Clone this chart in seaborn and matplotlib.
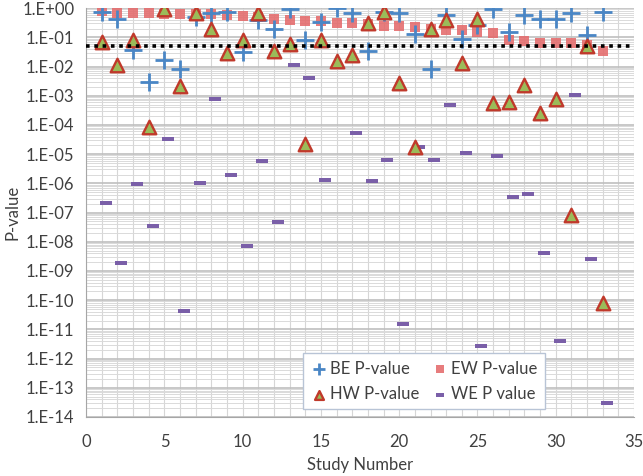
import numpy as np
import pandas as pd
import matplotlib.pyplot as plt
from matplotlib.path import Path
from matplotlib.ticker import LogLocator, FixedLocator, MultipleLocator
import seaborn as sns

# numarul studiului
study = list(range(1, 34))

be_p = [0.75, 0.44, 0.036, 0.003, 0.017, 0.008, 0.5, 0.66, 0.75, 0.032, 0.39,
        0.19, 0.9, 0.08, 0.34, 1.0, 0.69, 0.034, 0.75, 0.66, 0.125, 0.008,
        0.58, 0.085, 0.26, 0.9, 0.155, 0.58, 0.44, 0.42, 0.69, 0.12, 0.75]

ew_p = [0.8, 0.68, 0.66, 0.66, 0.64, 0.64, 0.62, 0.62, 0.6, 0.53, 0.5, 0.42,
        0.39, 0.37, 0.37, 0.31, 0.3, 0.28, 0.24, 0.24, 0.23, 0.2, 0.18, 0.18,
        0.155, 0.135, 0.08, 0.076, 0.065, 0.065, 0.065, 0.054, 0.035]

hw_p = [0.07, 0.011, 0.08, 8.7e-5, 0.9, 0.0021, 0.66, 0.19, 0.03, 0.08, 0.69,
        0.035, 0.059, 2.2e-5, 0.08, 0.016, 0.025, 0.3, 0.75, 0.0028, 1.7e-5,
        0.2, 0.38, 0.0127, 0.44, 5.7e-4, 6.2e-4, 0.0023, 2.6e-4, 7.9e-4,
        8.1e-8, 0.05, 7.7e-11]

we_p = [2.1e-7, 1.8e-9, 9.4e-7, 3.4e-8, 3.2e-5, 4.2e-11, 1e-6, 8e-4, 1.9e-6,
        7e-9, 5.9e-6, 4.8e-8, 0.011, 0.0039, 1.35e-6, np.nan, 5.1e-5, 1.2e-6,
        6.3e-6, 1.5e-11, 1.7e-5, 6.3e-6, 4.8e-4, 1.1e-5, 2.6e-12, 8.7e-6,
        3.3e-7, 4.3e-7, 4e-9, 4e-12, 1.05e-3, 2.5e-9, 2.9e-14]

threshold = 0.05
ytick_vals = [10.0 ** -k for k in range(0, 15)]
ytick_labels = ['1.E+00'] + ['1.E-%02d' % k for k in range(1, 15)]

df = pd.DataFrame({'Study': study, 'BE': be_p, 'EW': ew_p, 'HW': hw_p, 'WE': we_p})

sns.set_style('white')
plt.rcParams['font.family'] = ['Lato', 'DejaVu Sans']

fig = plt.figure(figsize=(6.43, 4.76), dpi=100)
ax = fig.add_axes([0.134, 0.124, 0.852, 0.859])

dash = Path([(-1, -0.42), (1, -0.42), (1, 0.42), (-1, 0.42), (-1, -0.42)],
            [Path.MOVETO, Path.LINETO, Path.LINETO, Path.LINETO, Path.CLOSEPOLY])

sns.scatterplot(data=df, x='Study', y='EW', marker='s', s=62, color='#E46A6B',
                edgecolor='#E46A6B', linewidth=0, alpha=0.88, ax=ax, label='EW P-value', zorder=3)
sns.scatterplot(data=df, x='Study', y='BE', marker='+', s=150, color='#4A86C5',
                linewidth=2.0, ax=ax, label='BE P-value', zorder=4)
sns.scatterplot(data=df, x='Study', y='HW', marker='^', s=95, color='#9BBB59',
                edgecolor='#C0392B', linewidth=1.7, ax=ax, label='HW P-value', zorder=5)
sns.scatterplot(x=df['Study'] + 0.25, y=df['WE'], marker=dash, s=65, color='#7A5FA8',
                edgecolor='#7A5FA8', linewidth=0, ax=ax, label='WE P value', zorder=3)

ax.axhline(threshold, color='black', linestyle=(0, (1, 1.3)), linewidth=2.6, zorder=6)

ax.set_yscale('log')
ax.set_ylim(1e-14, 1)
ax.set_xlim(0, 35)
ax.yaxis.set_major_locator(FixedLocator(ytick_vals))
ax.set_yticklabels(ytick_labels)
ax.yaxis.set_minor_locator(LogLocator(base=10, subs=np.arange(2, 10), numticks=100))
ax.xaxis.set_major_locator(MultipleLocator(5))
ax.xaxis.set_minor_locator(MultipleLocator(1))

ax.grid(which='major', axis='y', color='#BFBFBF', linewidth=1.2)
ax.grid(which='minor', axis='y', color='#DADADA', linewidth=0.7)
ax.grid(which='both', axis='x', color='#D6D6D6', linewidth=0.8)
ax.set_axisbelow(True)

for s in ['top', 'right']:
    ax.spines[s].set_visible(False)
for s in ['left', 'bottom']:
    ax.spines[s].set_color('#A6A6A6')

ax.tick_params(axis='y', which='major', length=5, color='#A6A6A6', labelsize=12, labelcolor='#404040')
ax.tick_params(axis='y', which='minor', length=0)
ax.tick_params(axis='x', which='both', length=0, labelsize=12, labelcolor='#404040', pad=12)

ax.set_xlabel('Study Number', fontsize=12, color='#404040')
ax.set_ylabel('P-value', fontsize=12, color='#404040')
ax.xaxis.set_label_coords(0.5, -0.118)
ax.yaxis.set_label_coords(-0.135, 0.5)
ax.xaxis.label.set_va('center')
ax.yaxis.label.set_va('center')

handles, labels = ax.get_legend_handles_labels()
order = [labels.index(l) for l in ['BE P-value', 'HW P-value', 'EW P-value', 'WE P value']]
leg = ax.legend([handles[i] for i in order], [labels[i] for i in order], ncol=2,
                loc='lower left', bbox_to_anchor=(0.38, -0.002), fontsize=12,
                frameon=True, fancybox=False, framealpha=1, edgecolor='#B8C4D6',
                handletextpad=0.1, handlelength=1.1, columnspacing=0.7, borderpad=0.45,
                labelspacing=0.55, markerscale=0.65)
for t in leg.get_texts():
    t.set_color('#404040')

plt.savefig('out.png', dpi=100)
